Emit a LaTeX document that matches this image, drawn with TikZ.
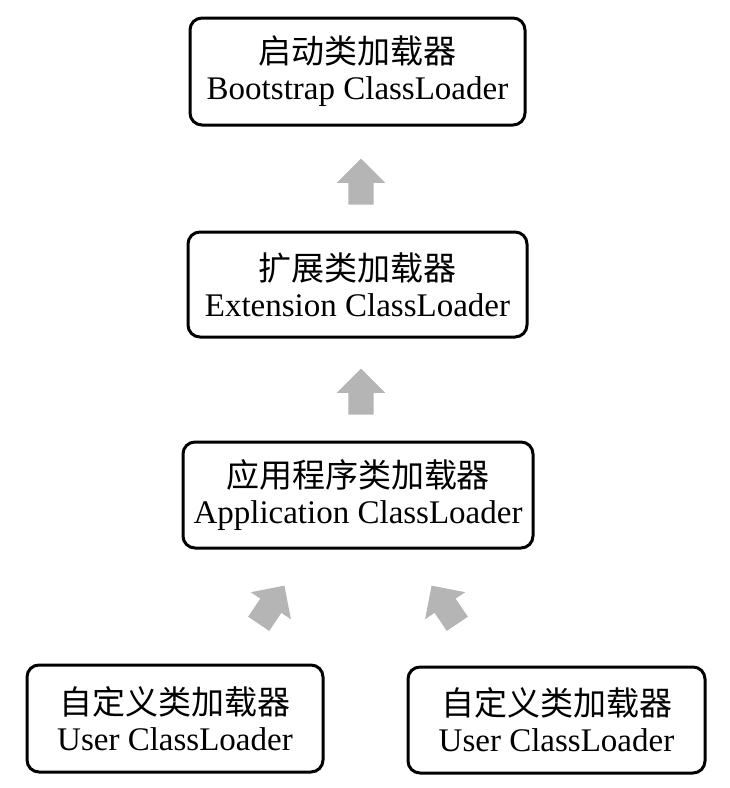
\documentclass[tikz,border=0pt]{standalone}
\usepackage{fontspec}
\setmainfont{Liberation Serif}
\newfontfamily\cjk{Noto Sans CJK SC}
\usetikzlibrary{shapes.arrows}
\definecolor{arrowgray}{RGB}{181,181,181}
\begin{document}
\begin{tikzpicture}[x=1pt,y=-1pt,
  loader/.style={draw=black, line width=3pt, rounded corners=12pt, fill=white,
    align=center, inner sep=0pt, font=\fontsize{33}{36}\selectfont},
  garrow/.style={single arrow, fill=arrowgray, draw=none, inner sep=12.5pt,
    minimum height=46pt, single arrow head extend=11.5pt,
    single arrow head indent=0pt, shape border rotate=90}]
\useasboundingbox (0,0) rectangle (730,788);
\fill[white] (0,0) rectangle (730,788);

\node[loader, minimum width=335pt, minimum height=107pt] (boot) at (357.5,71.5)
  {{\cjk 启动类加载器}\\Bootstrap ClassLoader};
\node[loader, minimum width=339pt, minimum height=105pt] (ext) at (357.5,284.5)
  {{\cjk 扩展类加载器}\\Extension ClassLoader};
\node[loader, minimum width=350pt, minimum height=106pt] (app) at (358,495)
  {{\cjk 应用程序类加载器}\\Application ClassLoader};
\node[loader, minimum width=296pt, minimum height=107pt] (user1) at (175,718.5)
  {{\cjk 自定义类加载器}\\User ClassLoader};
\node[loader, minimum width=297pt, minimum height=106pt] (user2) at (556.5,720)
  {{\cjk 自定义类加载器}\\User ClassLoader};

\node[garrow] (a1) at (361,188) {};
\node[garrow] (a2) at (361,398) {};
\node[garrow, rotate=-34] (a3) at (268,610) {};
\node[garrow, rotate=34] (a4) at (448,610) {};
\end{tikzpicture}
\end{document}
